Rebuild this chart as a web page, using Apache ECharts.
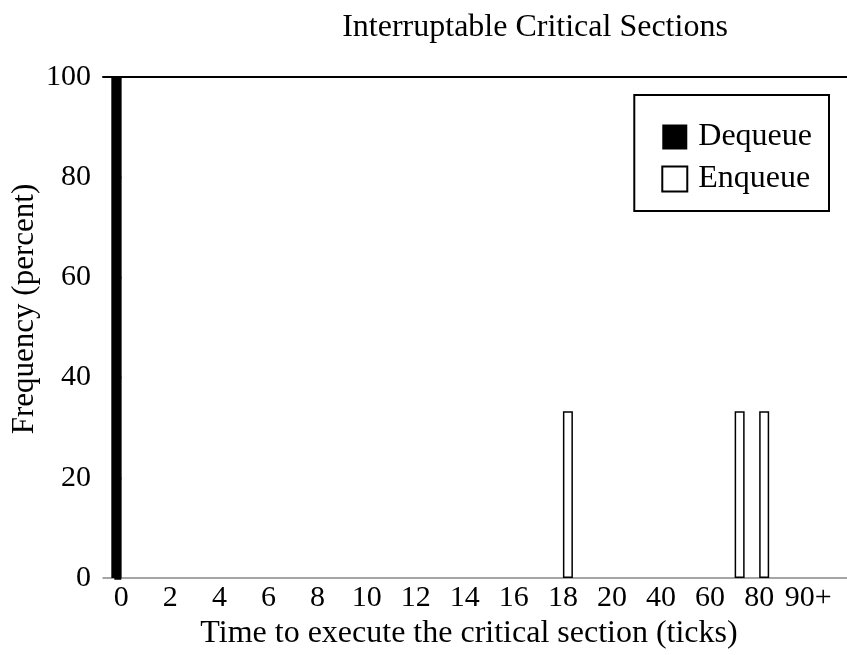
<!DOCTYPE html>
<html>
<head>
<meta charset="utf-8">
<script src="https://cdn.jsdelivr.net/npm/echarts@6/dist/echarts.min.js"></script>
<style>
    html, body { margin: 0; padding: 0; background: #fff; }
    #chart { width: 847px; height: 655px; }
</style>
</head>
<body>
<div id="chart"></div>
<script>
// x positions are in tick-label units (0 = "0", 1 = "2", ... 14 = "90+")
const tickLabels = ['0', '2', '4', '6', '8', '10', '12', '14', '16', '18', '20', '40', '60', '80', '90+'];
const tickPositions = [0, 1, 2, 3, 4, 5, 6, 7, 8, 9, 10, 11, 12, 13, 14];
const dequeue = [[0, 100]];
const enqueue = [[9, 33.3], [12.5, 33.3], [13, 33.3]];

const font = "'Liberation Serif', 'Times New Roman', serif";

const chart = echarts.init(document.getElementById('chart'), null, {renderer: 'canvas'});

chart.setOption({
    animation: false,
    backgroundColor: '#fff',
    textStyle: {fontFamily: font, color: '#000'},
    title: {
        text: 'Interruptable Critical Sections',
        left: 530,
        textAlign: 'center',
        top: 7,
        textStyle: {fontFamily: font, fontSize: 32, fontWeight: 'normal', color: '#000'}
    },
    // y axis title, placed by hand since the axis name kept hugging the edge
    graphic: [{
        type: 'text',
        x: 25,
        y: 309,
        rotation: Math.PI / 2,
        style: {
            text: 'Frequency (percent)',
            fontFamily: font,
            fontSize: 31,
            fill: '#000',
            align: 'center',
            verticalAlign: 'middle'
        }
    }],
    legend: {
        orient: 'vertical',
        right: 18,
        top: 95,
        padding: [26, 17, 16, 27],
        borderColor: '#000',
        borderWidth: 2,
        itemWidth: 25,
        itemHeight: 25,
        itemGap: 10,
        icon: 'rect',
        textStyle: {fontFamily: font, fontSize: 32, color: '#000', padding: [0, 0, 0, 6]},
        data: ['Dequeue', 'Enqueue']
    },
    grid: {left: 103, right: 0, top: 77, bottom: 77, outerBoundsMode: 'none'},
    xAxis: [{
        type: 'value',
        min: -0.373,
        max: 14.79,
        name: 'Time to execute the critical section (ticks)',
        nameLocation: 'middle',
        nameGap: 37,
        nameTextStyle: {fontFamily: font, fontSize: 32, color: '#000', padding: [0, 12, 0, 0]},
        axisLine: {lineStyle: {color: '#888', width: 1.5}},
        axisTick: {show: false},
        splitLine: {show: false},
        axisLabel: {
            customValues: tickPositions,
            formatter: v => tickLabels[Math.round(v)],
            fontFamily: font,
            fontSize: 30,
            color: '#000',
            margin: 5
        }
    }, {
        type: 'value',
        position: 'top',
        min: -0.373,
        max: 14.79,
        axisLine: {show: true, lineStyle: {color: '#000', width: 2}},
        axisTick: {show: false},
        axisLabel: {show: false},
        splitLine: {show: false}
    }],
    yAxis: {
        type: 'value',
        min: 0,
        max: 100,
        interval: 20,
        axisLine: {show: true, lineStyle: {color: '#888', width: 1}},
        axisTick: {show: true, inside: false, length: 7, lineStyle: {color: '#000', width: 2.5}},
        splitLine: {show: false},
        axisLabel: {fontFamily: font, fontSize: 30, color: '#000', margin: 12}
    },
    series: [{
        name: 'Dequeue',
        type: 'bar',
        data: dequeue,
        barWidth: 10,
        barGap: '0%',
        itemStyle: {color: '#000'}
    }, {
        name: 'Enqueue',
        type: 'bar',
        data: enqueue,
        barWidth: 10,
        barGap: '0%',
        itemStyle: {color: '#fff', borderColor: '#000', borderWidth: 1.5}
    }]
});
</script>
</body>
</html>
